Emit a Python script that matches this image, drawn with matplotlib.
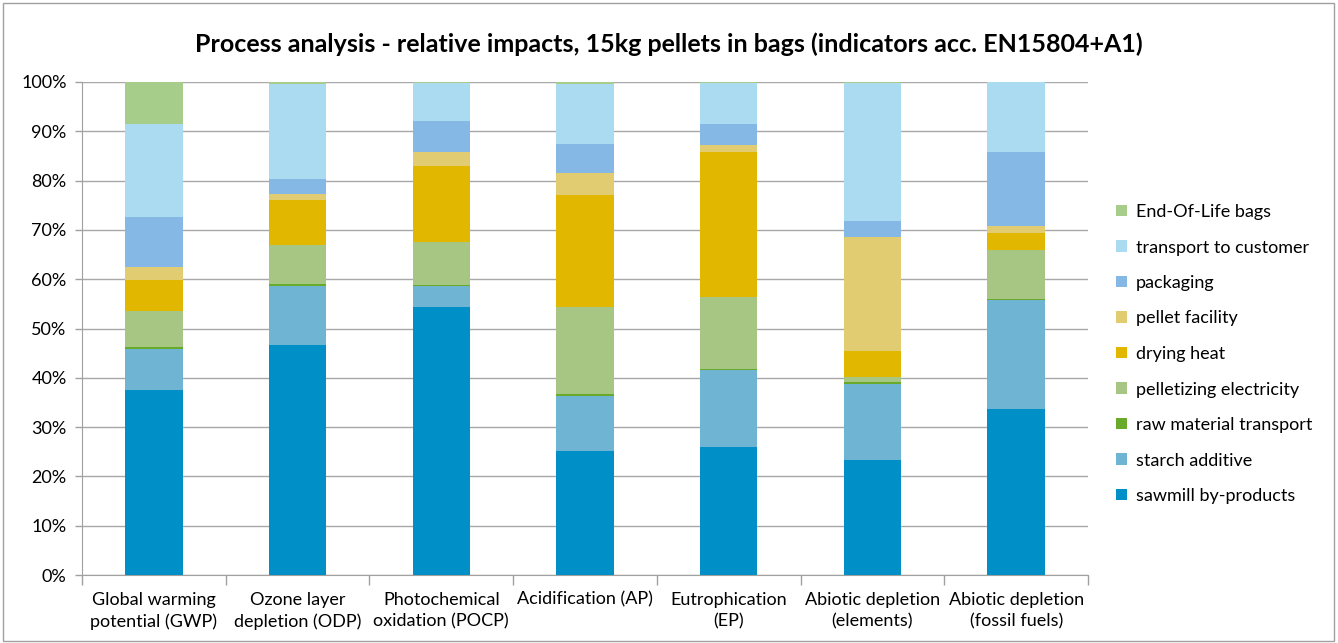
import matplotlib
matplotlib.use("Agg")
import matplotlib.pyplot as plt
import numpy as np
from matplotlib.patches import Rectangle

categories = ["Global warming\npotential (GWP)", "Ozone layer\ndepletion (ODP)",
              "Photochemical\noxidation (POCP)", "Acidification (AP)",
              "Eutrophication\n(EP)", "Abiotic depletion\n(elements)",
              "Abiotic depletion\n(fossil fuels)"]

series_names = ["sawmill by-products", "starch additive", "raw material transport",
                "pelletizing electricity", "drying heat", "pellet facility",
                "packaging", "transport to customer", "End-Of-Life bags"]

sawmill      = [37.5, 46.6, 54.4, 25.2, 26.0, 23.3, 33.7]
starch       = [8.4, 12.0, 4.3, 11.2, 15.6, 15.5, 22.1]
raw_material = [0.4, 0.5, 0.1, 0.3, 0.2, 0.4, 0.2]
pelletizing  = [7.2, 7.8, 8.8, 17.7, 14.5, 1.0, 10.0]
drying       = [6.3, 9.2, 15.3, 22.7, 29.4, 5.2, 3.4]
facility     = [2.7, 1.2, 2.9, 4.5, 1.5, 23.2, 1.4]
packaging    = [10.2, 3.0, 6.2, 5.8, 4.3, 3.3, 15.1]
transport    = [18.8, 19.2, 7.8, 12.2, 8.2, 27.9, 14.0]
eol          = [8.5, 0.5, 0.2, 0.4, 0.3, 0.2, 0.1]

series = [sawmill, starch, raw_material, pelletizing, drying, facility,
          packaging, transport, eol]
colors = ["#008FC7", "#70B4D3", "#6AAA2A", "#A7C583", "#E2B700", "#E1CC72",
          "#85B8E5", "#AADBF1", "#A6CE8A"]

font = ["Lato", "DejaVu Sans"]
plt.rcParams['font.family'] = font

W, H = 1338, 643
fig = plt.figure(figsize=(W/100, H/100), dpi=100)
ax = fig.add_axes([82/W, 1-575/H, (1088-82)/W, (575-82)/H])

x = np.arange(len(categories))
bottom = np.zeros(len(categories))
handles = []
for vals, name, col in zip(series, series_names, colors):
    v = np.array(vals)
    b = ax.bar(x, v, 0.4, bottom=bottom, color=col, label=name, zorder=3, linewidth=0)
    handles.append(b)
    bottom += v

ax.set_xlim(-0.5, len(categories)-0.5)
ax.set_ylim(0, 100)
ax.set_yticks(np.arange(0, 101, 10))
ax.set_yticklabels([f"{t}%" for t in range(0, 101, 10)], fontsize=13)
ax.yaxis.grid(True, color="#A8A8A8", linewidth=1, zorder=0)
ax.set_axisbelow(True)

ax.set_xticks(x)
ax.set_xticklabels(categories, fontsize=13, linespacing=1.45)
ax.tick_params(axis='x', length=0, pad=12)
ax.set_xticks(np.arange(-0.5, len(categories)), minor=True)
ax.tick_params(axis='x', which='minor', length=7, color="#A0A0A0", width=1)
ax.tick_params(axis='y', length=5, color="#A0A0A0", width=1, pad=6)

for s in ["top", "right"]:
    ax.spines[s].set_visible(False)
ax.spines["left"].set_color("#A0A0A0")
ax.spines["bottom"].set_color("#A0A0A0")

fig.text(0.5, 1-44/H, "Process analysis - relative impacts, 15kg pellets in bags (indicators acc. EN15804+A1)",
         ha="center", va="center", fontsize=18, fontweight="bold")

leg = fig.legend(handles[::-1], series_names[::-1], loc="center left",
                 bbox_to_anchor=(1100/W, 1-354/H), frameon=False, fontsize=13,
                 handlelength=0.6, handleheight=0.6, handletextpad=0.5,
                 labelspacing=1.08)

fig.patches.append(Rectangle((3/W, 2/H), (W-7)/W, (H-5)/H, transform=fig.transFigure,
                             fill=False, edgecolor="#A0A0A0", linewidth=1))

fig.savefig("out.png", dpi=100)
